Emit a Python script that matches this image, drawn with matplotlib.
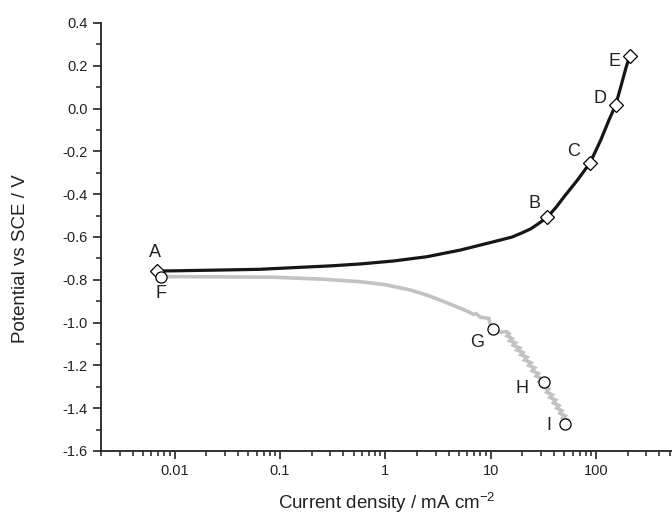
import numpy as np
import matplotlib
matplotlib.use('Agg')
import matplotlib.pyplot as plt
from matplotlib.ticker import LogLocator, MultipleLocator, FixedLocator

plt.rcParams['font.family'] = ['Liberation Sans', 'DejaVu Sans']
plt.rcParams['mathtext.default'] = 'regular'

# anodic branch (black)
anodic_i = [0.00675, 0.01, 0.03, 0.064, 0.15, 0.3, 0.578, 1.2, 2.49, 5.16, 10.7, 16.0,
            20.0, 24.0, 28.0, 34.6, 42.0, 49.8, 66.7, 88.0, 111.0, 133.0, 154.0, 172.0,
            192.0, 209.0]
anodic_E = [-0.759, -0.758, -0.754, -0.751, -0.742, -0.735, -0.726, -0.712, -0.692, -0.661,
            -0.622, -0.600, -0.580, -0.562, -0.540, -0.507, -0.460, -0.412, -0.334, -0.253,
            -0.147, -0.053, 0.017, 0.102, 0.188, 0.247]

# cathodic branch (grey, noisy)
cathodic_i = [0.00736, 0.02, 0.087, 0.25, 0.58, 1.0, 1.74, 2.6, 3.6, 5.16, 6.2, 6.9, 7.3,
              8.0, 9.6, 10.0, 10.45, 11.2, 12.5, 14.2, 15.0, 14.3, 16.0, 15.2, 17.2, 16.4,
              18.8, 17.8, 20.3, 19.4, 22.2, 21.0, 24.2, 23.0, 26.2, 24.8, 28.4, 27.0, 30.5,
              29.0, 33.0, 31.5, 35.5, 34.0, 38.5, 36.5, 41.5, 39.5, 44.5, 42.5, 47.5, 45.5,
              51.0, 48.5, 53.8]
cathodic_E = [-0.785, -0.786, -0.788, -0.797, -0.809, -0.823, -0.848, -0.875, -0.902, -0.933,
              -0.950, -0.962, -0.958, -0.975, -0.980, -1.016, -1.030, -1.038, -1.045, -1.042,
              -1.052, -1.062, -1.075, -1.085, -1.095, -1.106, -1.118, -1.128, -1.140, -1.150,
              -1.162, -1.175, -1.188, -1.200, -1.212, -1.225, -1.238, -1.250, -1.262, -1.275,
              -1.288, -1.300, -1.312, -1.325, -1.338, -1.350, -1.362, -1.375, -1.388, -1.400,
              -1.412, -1.424, -1.436, -1.446, -1.455]

# labelled points
anodic_labels = ['A', 'B', 'C', 'D', 'E']
anodic_pts_i = [0.00675, 34.6, 88.0, 154.0, 209.0]
anodic_pts_E = [-0.759, -0.507, -0.253, 0.017, 0.247]
anodic_offs = [(-2, 19), (-13, 14), (-17, 11), (-16, 6), (-15, -6)]

cathodic_labels = ['F', 'G', 'H', 'I']
cathodic_pts_i = [0.00736, 10.45, 31.9, 50.5]
cathodic_pts_E = [-0.787, -1.030, -1.278, -1.474]
cathodic_offs = [(0, -16), (-16, -13), (-22, -6), (-16, -1)]

fig = plt.figure(figsize=(6.72, 5.15), dpi=100)
ax = fig.add_axes([101 / 672, (515 - 451) / 515, 1 - 101 / 672, (451 - 23) / 515])

ax.plot(cathodic_i, cathodic_E, color='#c2c2c2', lw=2.6, zorder=2, solid_joinstyle='miter')
ax.plot(anodic_i, anodic_E, color='#161616', lw=2.3, zorder=3)

ax.plot(anodic_pts_i, anodic_pts_E, ls='none', marker='D', ms=7, mfc='white',
        mec='black', mew=0.9, zorder=4)
ax.plot(cathodic_pts_i, cathodic_pts_E, ls='none', marker='o', ms=8, mfc='white',
        mec='black', mew=0.9, zorder=4)

for lab, x, y, off in zip(anodic_labels, anodic_pts_i, anodic_pts_E, anodic_offs):
    ax.annotate(lab, (x, y), xytext=off, textcoords='offset pixels',
                ha='center', va='center', fontsize=13, color='#222222')
for lab, x, y, off in zip(cathodic_labels, cathodic_pts_i, cathodic_pts_E, cathodic_offs):
    ax.annotate(lab, (x, y), xytext=off, textcoords='offset pixels',
                ha='center', va='center', fontsize=13, color='#222222')

ax.set_xscale('log')
ax.set_xlim(0.002, 527)
ax.set_ylim(-1.6, 0.4)

ax.xaxis.set_major_locator(FixedLocator([0.01, 0.1, 1, 10, 100]))
ax.xaxis.set_minor_locator(LogLocator(base=10, subs=np.arange(2, 10), numticks=20))
ax.set_xticklabels(['0.01', '0.1', '1', '10', '100'])
ax.yaxis.set_major_locator(MultipleLocator(0.2))
ax.yaxis.set_minor_locator(MultipleLocator(0.1))
ax.yaxis.set_major_formatter(plt.FuncFormatter(lambda v, p: '%.1f' % v))

for s in ['top', 'right']:
    ax.spines[s].set_visible(False)
for s in ['left', 'bottom']:
    ax.spines[s].set_linewidth(1.3)
    ax.spines[s].set_color('#222222')

ax.tick_params(which='major', direction='out', length=6, width=1.2, labelsize=10.5,
               colors='#222222')
ax.tick_params(which='minor', direction='out', length=3.5, width=1.1, colors='#222222')

ax.set_xlabel('Current density / mA cm$^{-2}$', fontsize=13.5, color='#222222')
ax.set_ylabel('Potential vs SCE / V', fontsize=13.5, color='#222222')
ax.xaxis.set_label_coords(0.5, -0.093)
ax.yaxis.set_label_coords(-0.126, 0.45)

fig.savefig('out.png', dpi=100)
